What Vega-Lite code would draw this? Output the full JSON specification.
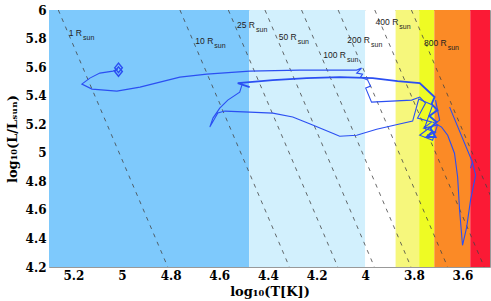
{
  "$schema": "https://vega.github.io/schema/vega-lite/v6.json",
  "width": 441,
  "height": 257,
  "autosize": "none",
  "padding": {"left": 49, "top": 10, "right": 1, "bottom": 34},
  "background": "white",
  "config": {
    "view": {"stroke": "#999999", "strokeWidth": 1},
    "axis": {
      "grid": false,
      "domain": false,
      "ticks": false,
      "labelFont": "DejaVu Serif",
      "labelFontWeight": "bold",
      "labelFontSize": 12,
      "labelColor": "#000000",
      "titleFont": "DejaVu Serif",
      "titleFontWeight": "bold",
      "titleFontSize": 13,
      "titleColor": "#000000"
    }
  },
  "datasets": {
    "bands": [
      {"band": "O", "t0": 5.3, "t1": 4.4771},
      {"band": "B", "t0": 4.4771, "t1": 4.0},
      {"band": "A", "t0": 4.0, "t1": 3.8751},
      {"band": "F", "t0": 3.8751, "t1": 3.7782},
      {"band": "G", "t0": 3.7782, "t1": 3.716},
      {"band": "K", "t0": 3.716, "t1": 3.5682},
      {"band": "M", "t0": 3.5682, "t1": 3.487}
    ],
    "rlines": [
      {"R": 1, "logT": 5.2617, "logL": 6}, {"R": 1, "logT": 4.8117, "logL": 4.2},
      {"R": 10, "logT": 4.7617, "logL": 6}, {"R": 10, "logT": 4.3117, "logL": 4.2},
      {"R": 25, "logT": 4.5627, "logL": 6}, {"R": 25, "logT": 4.1127, "logL": 4.2},
      {"R": 50, "logT": 4.4122, "logL": 6}, {"R": 50, "logT": 3.9622, "logL": 4.2},
      {"R": 100, "logT": 4.2617, "logL": 6}, {"R": 100, "logT": 3.8117, "logL": 4.2},
      {"R": 200, "logT": 4.1112, "logL": 6}, {"R": 200, "logT": 3.6612, "logL": 4.2},
      {"R": 400, "logT": 3.9607, "logL": 6}, {"R": 400, "logT": 3.5107, "logL": 4.2},
      {"R": 800, "logT": 3.8102, "logL": 6}, {"R": 800, "logT": 3.3602, "logL": 4.2}
    ],
    "labels": [
      {"text": "1 R", "logT": 5.1643, "logL": 5.8387},
      {"text": "10 R", "logT": 4.6246, "logL": 5.7847},
      {"text": "25 R", "logT": 4.4531, "logL": 5.8948},
      {"text": "50 R", "logT": 4.2817, "logL": 5.8128},
      {"text": "100 R", "logT": 4.079, "logL": 5.6844},
      {"text": "200 R", "logT": 3.9804, "logL": 5.7896},
      {"text": "400 R", "logT": 3.864, "logL": 5.918},
      {"text": "800 R", "logT": 3.665, "logL": 5.7707}
    ],
    "tracks": [
      {"track": "A", "i": 1, "logT": 5.017, "logL": 5.586},
      {"track": "A", "i": 2, "logT": 5.037, "logL": 5.572},
      {"track": "A", "i": 3, "logT": 5.091, "logL": 5.558},
      {"track": "A", "i": 4, "logT": 5.132, "logL": 5.523},
      {"track": "A", "i": 5, "logT": 5.165, "logL": 5.481},
      {"track": "A", "i": 6, "logT": 5.123, "logL": 5.446},
      {"track": "A", "i": 7, "logT": 5.021, "logL": 5.432},
      {"track": "A", "i": 8, "logT": 4.926, "logL": 5.46},
      {"track": "A", "i": 9, "logT": 4.844, "logL": 5.495},
      {"track": "A", "i": 10, "logT": 4.762, "logL": 5.53},
      {"track": "A", "i": 11, "logT": 4.651, "logL": 5.551},
      {"track": "A", "i": 12, "logT": 4.475, "logL": 5.572},
      {"track": "A", "i": 13, "logT": 4.269, "logL": 5.579},
      {"track": "A", "i": 14, "logT": 4.035, "logL": 5.579},
      {"track": "A", "i": 15, "logT": 4.015, "logL": 5.593},
      {"track": "A", "i": 16, "logT": 4.035, "logL": 5.558},
      {"track": "A", "i": 17, "logT": 4.011, "logL": 5.551},
      {"track": "A", "i": 18, "logT": 4.019, "logL": 5.53},
      {"track": "A", "i": 19, "logT": 3.99, "logL": 5.509},
      {"track": "A", "i": 20, "logT": 3.978, "logL": 5.467},
      {"track": "A", "i": 21, "logT": 3.998, "logL": 5.453},
      {"track": "A", "i": 22, "logT": 3.974, "logL": 5.355},
      {"track": "A", "i": 23, "logT": 3.809, "logL": 5.369},
      {"track": "A", "i": 24, "logT": 3.776, "logL": 5.39},
      {"track": "A", "i": 25, "logT": 3.752, "logL": 5.348},
      {"track": "A", "i": 26, "logT": 3.785, "logL": 5.243},
      {"track": "A", "i": 27, "logT": 3.727, "logL": 5.215},
      {"track": "A", "i": 28, "logT": 3.76, "logL": 5.173},
      {"track": "A", "i": 29, "logT": 3.711, "logL": 5.145},
      {"track": "A", "i": 30, "logT": 3.744, "logL": 5.116},
      {"track": "B", "i": 1, "logT": 4.475, "logL": 5.46},
      {"track": "B", "i": 2, "logT": 4.524, "logL": 5.488},
      {"track": "B", "i": 3, "logT": 4.38, "logL": 5.509},
      {"track": "B", "i": 4, "logT": 4.241, "logL": 5.523},
      {"track": "B", "i": 5, "logT": 4.105, "logL": 5.53},
      {"track": "B", "i": 6, "logT": 3.969, "logL": 5.523},
      {"track": "B", "i": 7, "logT": 3.867, "logL": 5.502},
      {"track": "B", "i": 8, "logT": 3.776, "logL": 5.488},
      {"track": "B", "i": 9, "logT": 3.715, "logL": 5.39},
      {"track": "B", "i": 10, "logT": 3.727, "logL": 5.341},
      {"track": "B", "i": 11, "logT": 3.703, "logL": 5.299},
      {"track": "B", "i": 12, "logT": 3.736, "logL": 5.257},
      {"track": "B", "i": 13, "logT": 3.707, "logL": 5.215},
      {"track": "B", "i": 14, "logT": 3.732, "logL": 5.173},
      {"track": "B", "i": 15, "logT": 3.711, "logL": 5.11},
      {"track": "B", "i": 16, "logT": 3.748, "logL": 5.11},
      {"track": "B", "i": 17, "logT": 3.723, "logL": 5.151},
      {"track": "C", "i": 1, "logT": 4.507, "logL": 5.474},
      {"track": "C", "i": 2, "logT": 4.516, "logL": 5.425},
      {"track": "C", "i": 3, "logT": 4.565, "logL": 5.369},
      {"track": "C", "i": 4, "logT": 4.598, "logL": 5.313},
      {"track": "C", "i": 5, "logT": 4.626, "logL": 5.243},
      {"track": "C", "i": 6, "logT": 4.639, "logL": 5.18},
      {"track": "C", "i": 7, "logT": 4.627, "logL": 5.215},
      {"track": "C", "i": 8, "logT": 4.606, "logL": 5.278},
      {"track": "C", "i": 9, "logT": 4.577, "logL": 5.292},
      {"track": "C", "i": 10, "logT": 4.475, "logL": 5.285},
      {"track": "C", "i": 11, "logT": 4.38, "logL": 5.278},
      {"track": "C", "i": 12, "logT": 4.298, "logL": 5.25},
      {"track": "C", "i": 13, "logT": 4.216, "logL": 5.194},
      {"track": "C", "i": 14, "logT": 4.134, "logL": 5.137},
      {"track": "C", "i": 15, "logT": 4.105, "logL": 5.116},
      {"track": "C", "i": 16, "logT": 4.035, "logL": 5.123},
      {"track": "C", "i": 17, "logT": 3.953, "logL": 5.165},
      {"track": "C", "i": 18, "logT": 3.859, "logL": 5.201},
      {"track": "C", "i": 19, "logT": 3.805, "logL": 5.222},
      {"track": "C", "i": 20, "logT": 3.78, "logL": 5.376},
      {"track": "C", "i": 21, "logT": 3.723, "logL": 5.334},
      {"track": "C", "i": 22, "logT": 3.756, "logL": 5.173},
      {"track": "C", "i": 23, "logT": 3.703, "logL": 5.194},
      {"track": "C", "i": 24, "logT": 3.723, "logL": 5.088},
      {"track": "C", "i": 25, "logT": 3.776, "logL": 5.123},
      {"track": "C", "i": 26, "logT": 3.694, "logL": 5.229},
      {"track": "C", "i": 27, "logT": 3.711, "logL": 5.369},
      {"track": "D", "i": 1, "logT": 3.723, "logL": 5.215},
      {"track": "D", "i": 2, "logT": 3.686, "logL": 5.18},
      {"track": "D", "i": 3, "logT": 3.661, "logL": 5.123},
      {"track": "D", "i": 4, "logT": 3.633, "logL": 4.997},
      {"track": "D", "i": 5, "logT": 3.62, "logL": 4.829},
      {"track": "D", "i": 6, "logT": 3.612, "logL": 4.597},
      {"track": "D", "i": 7, "logT": 3.6, "logL": 4.352},
      {"track": "D", "i": 8, "logT": 3.583, "logL": 4.478},
      {"track": "D", "i": 9, "logT": 3.567, "logL": 4.668},
      {"track": "D", "i": 10, "logT": 3.546, "logL": 4.843},
      {"track": "D", "i": 11, "logT": 3.559, "logL": 4.934},
      {"track": "D", "i": 12, "logT": 3.567, "logL": 4.892},
      {"track": "D", "i": 13, "logT": 3.559, "logL": 4.934},
      {"track": "D", "i": 14, "logT": 3.653, "logL": 5.32}
    ],
    "marker": [
      {"logT": 5.0143, "logL": 5.5947},
      {"logT": 5.0143, "logL": 5.5687}
    ]
  },
  "encoding": {
    "x": {
      "field": "logT",
      "type": "quantitative",
      "scale": {"domain": [5.3, 3.487], "nice": false, "zero": false},
      "axis": {
        "title": "log₁₀(T[K])",
        "values": [5.2, 5, 4.8, 4.6, 4.4, 4.2, 4, 3.8, 3.6],
        "format": "~g",
        "labelPadding": 3,
        "titleY": 28,
        "titleBaseline": "alphabetic"
      }
    },
    "y": {
      "field": "logL",
      "type": "quantitative",
      "scale": {"domain": [4.2, 6], "nice": false, "zero": false},
      "axis": {
        "title": "log₁₀(L/Lₛᵤₙ)",
        "values": [4.2, 4.4, 4.6, 4.8, 5, 5.2, 5.4, 5.6, 5.8, 6],
        "format": "~g",
        "labelPadding": 3,
        "titlePadding": 6
      }
    }
  },
  "layer": [
    {
      "data": {"name": "bands"},
      "mark": {"type": "rect"},
      "encoding": {
        "x": {"field": "t0", "type": "quantitative"},
        "x2": {"field": "t1"},
        "y": null,
        "color": {
          "field": "band",
          "type": "nominal",
          "scale": {
            "domain": ["O", "B", "A", "F", "G", "K", "M"],
            "range": ["#7ec9fc", "#d2f0fd", "#ffffff", "#f6f77c", "#eefb24", "#fb8a26", "#fb1a35"]
          },
          "legend": null
        }
      }
    },
    {
      "data": {"name": "rlines"},
      "mark": {"type": "line", "clip": true, "color": "#444444", "strokeWidth": 0.8, "strokeDash": [4, 5]},
      "encoding": {
        "detail": {"field": "R", "type": "nominal"}
      }
    },
    {
      "data": {"name": "labels"},
      "mark": {"type": "text", "align": "right", "baseline": "middle", "font": "Liberation Sans", "fontSize": 8.5, "color": "#222222"},
      "encoding": {"text": {"field": "text"}}
    },
    {
      "data": {"name": "labels"},
      "mark": {"type": "text", "align": "left", "baseline": "middle", "dx": 1, "dy": 5, "font": "Liberation Sans", "fontSize": 7, "color": "#222222", "text": "sun"},
      "encoding": {}
    },
    {
      "data": {"name": "tracks"},
      "transform": [{"filter": "datum.track != 'B'"}],
      "mark": {"type": "line", "clip": true, "color": "#2b4ff2", "strokeWidth": 1.1},
      "encoding": {
        "detail": {"field": "track", "type": "nominal"},
        "order": {"field": "i", "type": "quantitative"}
      }
    },
    {
      "data": {"name": "tracks"},
      "transform": [{"filter": "datum.track == 'B'"}],
      "mark": {"type": "line", "clip": true, "color": "#2b4ff2", "strokeWidth": 1.9},
      "encoding": {
        "detail": {"field": "track", "type": "nominal"},
        "order": {"field": "i", "type": "quantitative"}
      }
    },
    {
      "data": {"name": "marker"},
      "mark": {"type": "point", "shape": "M-0.8,0L0,-1L0.8,0L0,1Z", "size": 90, "filled": false, "color": "#2b4ff2", "strokeWidth": 1.5, "opacity": 1}
    }
  ]
}
